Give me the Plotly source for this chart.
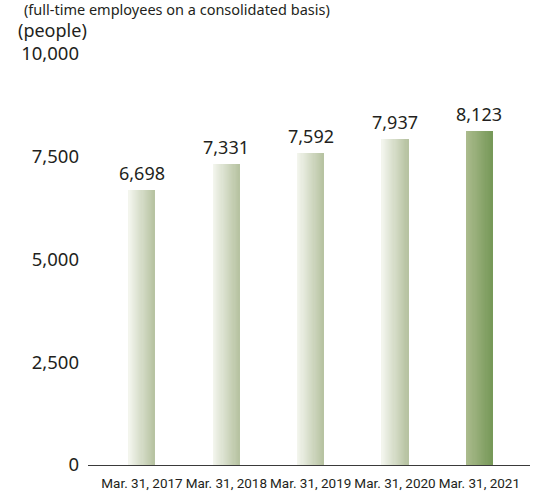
import plotly.graph_objects as go

# Headcount at fiscal year end (full-time employees, consolidated)
categories = ["Mar. 31, 2017", "Mar. 31, 2018", "Mar. 31, 2019", "Mar. 31, 2020", "Mar. 31, 2021"]
employees = [6698, 7331, 7592, 7937, 8123]
y_ticks = [0, 2500, 5000, 7500, 10000]

# horizontal gradient stops (left -> right) for each bar; latest year highlighted
pale_left, pale_right = (244, 246, 239), (182, 194, 160)
dark_left, dark_right = (172, 188, 142), (118, 152, 88)
gradients = [(pale_left, pale_right)] * 4 + [(dark_left, dark_right)]

BAR_W = 0.31
STRIPS = 24
TEXT = "#231f20"


def mix(c0, c1, t):
    r, g, b = (round(a + (b_ - a) * t) for a, b_ in zip(c0, c1))
    return f"rgb({r},{g},{b})"


fig = go.Figure()

# each bar is painted as a row of narrow strips to give a left-to-right gradient
step = BAR_W / STRIPS
for k in range(STRIPS):
    t = (k + 0.5) / STRIPS
    fig.add_trace(go.Bar(
        x=categories,
        y=employees,
        offset=-BAR_W / 2 + k * step,
        width=step * (1.6 if k < STRIPS - 1 else 1.0),
        marker=dict(color=[mix(c0, c1, t) for c0, c1 in gradients], line=dict(width=0)),
        hoverinfo="skip",
        showlegend=False,
    ))

# value labels sitting just above each bar
value_labels = [
    dict(x=c, y=v, text=f"{v:,}", xref="x", yref="y", xanchor="center", yanchor="bottom",
         yshift=3, showarrow=False, font=dict(family="Noto Sans", size=18, color=TEXT))
    for c, v in zip(categories, employees)
]

fig.update_layout(
    width=533,
    height=495,
    margin=dict(l=88, r=3, t=54, b=30, autoexpand=False),
    paper_bgcolor="white",
    plot_bgcolor="white",
    barmode="overlay",
    bargap=0,
    font=dict(family="Noto Sans", color=TEXT),
    xaxis=dict(
        type="category",
        range=[-0.64, 4.6],
        showline=True,
        linecolor="#3a3a3a",
        linewidth=1,
        showgrid=False,
        ticks="",
        tickangle=0,
        automargin=False,
        tickfont=dict(family="Roboto", size=13.5, color=TEXT),
        ticklabelstandoff=6,
    ),
    yaxis=dict(
        range=[0, 10000],
        tickvals=y_ticks,
        ticktext=[f"{v:,}" for v in y_ticks],
        showgrid=False,
        zeroline=False,
        showline=False,
        ticks="",
        automargin=False,
        tickfont=dict(family="Noto Sans", size=18.5, color=TEXT),
        ticklabelstandoff=8,
    ),
    annotations=value_labels + [
        dict(text="(full-time employees on a consolidated basis)", xref="paper", yref="paper",
             x=-0.15, y=1.109, xanchor="left", yanchor="middle", showarrow=False,
             font=dict(family="Noto Sans", size=14.5, color=TEXT)),
        dict(text="(people)", xref="paper", yref="paper",
             x=-0.164, y=1.058, xanchor="left", yanchor="middle", showarrow=False,
             font=dict(family="Noto Sans", size=18, color=TEXT)),
    ],
)

fig.write_html("out.html")
